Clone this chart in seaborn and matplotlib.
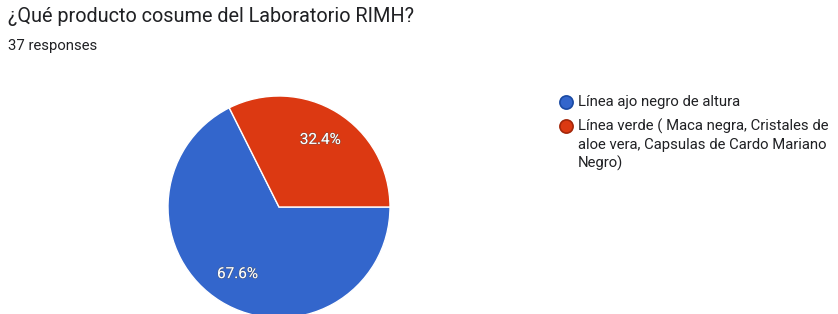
import matplotlib
matplotlib.use("Agg")
import matplotlib.pyplot as plt
import matplotlib.patheffects as pe
from matplotlib.lines import Line2D
import seaborn as sns

# data
title = "¿Qué producto cosume del Laboratorio RIMH?"
subtitle = "37 responses"
categories = ["Línea ajo negro de altura",
              "Línea verde ( Maca negra, Cristales de\naloe vera, Capsulas de Cardo Mariano\nNegro)"]
shares = [67.6, 32.4]
colors = ["#3366CC", "#DC3912"]
edge_colors = ["#1a4aa3", "#a3270a"]

sns.set_theme(style="white")
plt.rcParams['font.family'] = ['Roboto', 'DejaVu Sans']

W, H = 838, 314
fig = plt.figure(figsize=(W / 100, H / 100), dpi=100)
fig.patch.set_facecolor("white")

# pie axes: center ~ (279, 207) px, radius ~ 111 px
cx, cy, r = 279, 207, 111
ax = fig.add_axes([(cx - r) / W, (H - cy - r) / H, 2 * r / W, 2 * r / H])
wedges, texts, autotexts = ax.pie(
    shares, colors=colors, startangle=0, counterclock=False,
    autopct="%.1f%%", pctdistance=0.71, radius=1,
    wedgeprops=dict(edgecolor="white", linewidth=1.0),
    textprops=dict(color="white", fontsize=11))
for t in autotexts:
    t.set_path_effects([pe.withStroke(linewidth=1.0, foreground="#55555580")])
ax.set_xlim(-1, 1)
ax.set_ylim(-1, 1)
ax.set_aspect("equal")
ax.axis("off")

fig.text(8 / W, 1 - 17 / H, title, fontsize=14.3, color="#202124", va="center")
fig.text(8 / W, 1 - 46 / H, subtitle, fontsize=10.7, color="#202124", va="center")

# legend drawn by hand: marker on the first line, text wrapped below
fs = 10.7
line_px = 19.5
y = 102
for lab, c, e in zip(categories, colors, edge_colors):
    fig.add_artist(Line2D([566 / W], [1 - y / H], marker="o", linestyle="",
                          markersize=9.5, markerfacecolor=c,
                          markeredgecolor=e, markeredgewidth=1.2,
                          transform=fig.transFigure))
    fig.text(578 / W, 1 - (y - 7) / H, lab, fontsize=fs, color="#202124",
             va="top", linespacing=1.36)
    y += line_px * (lab.count("\n") + 1) + 4

fig.savefig("out.png", dpi=100, facecolor="white")
